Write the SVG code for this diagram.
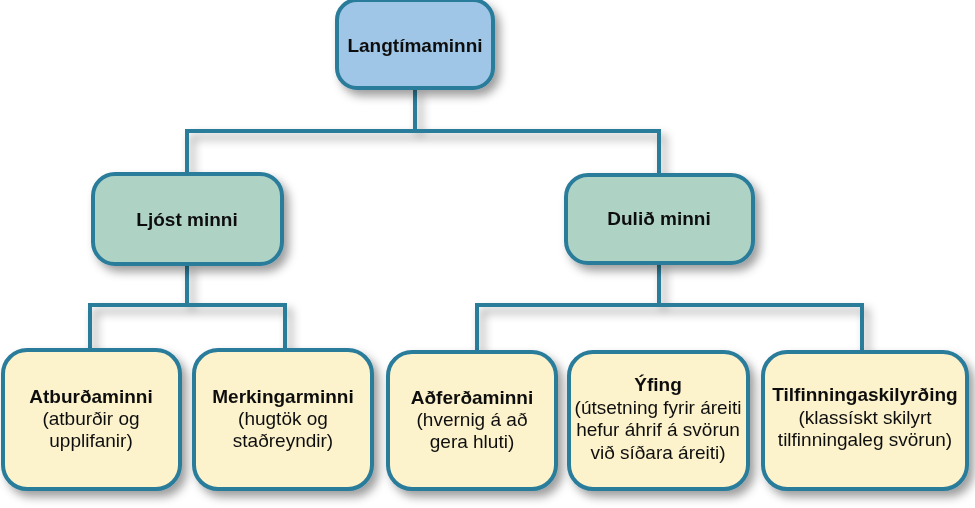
<svg xmlns="http://www.w3.org/2000/svg" width="975" height="508" viewBox="0 0 975 508">
<defs>
<filter id="sh" x="-20%" y="-20%" width="140%" height="150%">
<feDropShadow dx="5" dy="6" stdDeviation="5" flood-color="#000" flood-opacity="0.38"/>
</filter>
<style>
.box{stroke:#2a7b9b;stroke-width:4}
.top{fill:#9fc6e7}
.mid{fill:#aed3c5}
.bot{fill:#fcf2cb}
.con{fill:none;stroke:#2a7b9b;stroke-width:4}
text{font-family:"Liberation Sans",Arial,sans-serif;font-size:19px;fill:#111;text-anchor:middle}
.b{font-weight:bold}
</style>
</defs>
<rect width="975" height="508" fill="#fff"/>
<g id="connectors" filter="url(#sh)">
<path class="con" d="M415,88 V131 M187,173 V131 H659 V175"/>
<path class="con" d="M187,264 V305 M90,350 V305 H285 V350"/>
<path class="con" d="M659,263 V305 M477,352 V305 H862 V352"/>
</g>
<g id="n-langtima" filter="url(#sh)">
<rect class="box top" x="337" y="0" width="156" height="88" rx="20"/>
<text class="b" x="415" y="52">Langtímaminni</text>
</g>
<g id="n-ljost" filter="url(#sh)">
<rect class="box mid" x="93" y="174" width="189" height="90" rx="22"/>
<text class="b" x="187" y="226">Ljóst minni</text>
</g>
<g id="n-dulid" filter="url(#sh)">
<rect class="box mid" x="566" y="175" width="187" height="88" rx="22"/>
<text class="b" x="659" y="225">Dulið minni</text>
</g>
<g id="n-atburda" filter="url(#sh)">
<rect class="box bot" x="3" y="350" width="177" height="139" rx="24"/>
<text x="91" y="403"><tspan class="b">Atburðaminni</tspan><tspan x="91" dy="22">(atburðir og</tspan><tspan x="91" dy="22">upplifanir)</tspan></text>
</g>
<g id="n-merking" filter="url(#sh)">
<rect class="box bot" x="194" y="350" width="178" height="139" rx="24"/>
<text x="283" y="403"><tspan class="b">Merkingarminni</tspan><tspan x="283" dy="22">(hugtök og</tspan><tspan x="283" dy="22">staðreyndir)</tspan></text>
</g>
<g id="n-adferda" filter="url(#sh)">
<rect class="box bot" x="388" y="352" width="168" height="137" rx="24"/>
<text x="472" y="404"><tspan class="b">Aðferðaminni</tspan><tspan x="472" dy="22">(hvernig á að</tspan><tspan x="472" dy="22">gera hluti)</tspan></text>
</g>
<g id="n-yfing" filter="url(#sh)">
<rect class="box bot" x="569" y="352" width="179" height="137" rx="24"/>
<text x="658" y="391"><tspan class="b">Ýfing</tspan><tspan x="658" dy="22.7">(útsetning fyrir áreiti</tspan><tspan x="658" dy="22.7">hefur áhrif á svörun</tspan><tspan x="658" dy="22.7">við síðara áreiti)</tspan></text>
</g>
<g id="n-tilfinning" filter="url(#sh)">
<rect class="box bot" x="763" y="352" width="204" height="137" rx="24"/>
<text x="865" y="401"><tspan class="b">Tilfinningaskilyrðing</tspan><tspan x="865" dy="22.5">(klassískt skilyrt</tspan><tspan x="865" dy="22.5">tilfinningaleg svörun)</tspan></text>
</g>
</svg>
